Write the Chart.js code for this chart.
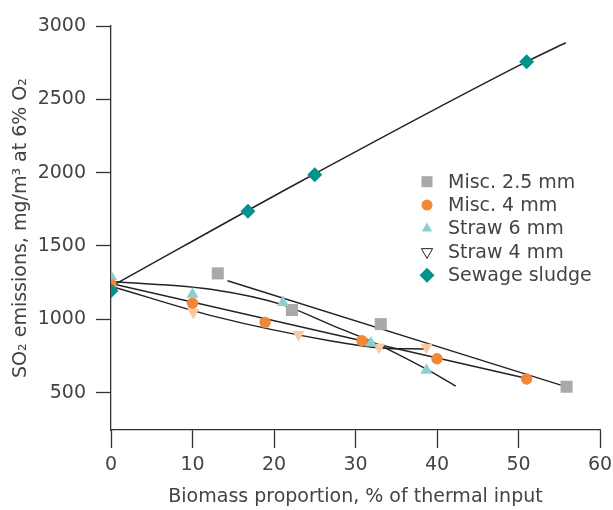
<!DOCTYPE html>
<html>
<head>
<meta charset="utf-8">
<script src="https://cdn.jsdelivr.net/npm/chart.js@4/dist/chart.umd.min.js"></script>
<style>
  html, body { margin: 0; padding: 0; background: #fff; }
  #wrap { width: 613px; height: 510px; position: relative; }
</style>
</head>
<body>
<div id="wrap"><canvas id="chart"></canvas></div>
<script>
const xTicks = [0, 10, 20, 30, 40, 50, 60];
const yTicks = [500, 1000, 1500, 2000, 2500, 3000];
const seriesNames = ["Misc. 2.5 mm", "Misc. 4 mm", "Straw 6 mm", "Straw 4 mm", "Sewage sludge"];

// measured points
const misc25X = [13.1, 22.2, 33.1, 55.9];
const misc25Y = [1313, 1063, 967, 540];
const misc4X = [0, 10, 18.9, 30.8, 40, 51];
const misc4Y = [1238, 1109, 979, 854, 731, 593];
const straw6X = [0, 10, 21.1, 31.9, 38.7];
const straw6Y = [1292, 1170, 1115, 838, 652];
const straw4X = [10.1, 23, 32.9, 38.7];
const straw4Y = [1048, 896, 810, 810];
const sewageX = [0, 16.8, 25, 51];
const sewageY = [1195, 1736, 1985, 2757];

// fitted curves
const misc25FitX = [14.3, 55.2];
const misc25FitY = [1263, 551];
const misc4FitX = [0, 51.6];
const misc4FitY = [1244, 590];
const straw6FitX = [0, 12.8, 21, 27.5, 32, 38.7, 42.3];
const straw6FitY = [1257, 1200, 1100, 950, 848, 660, 545];
const straw4FitX = [0, 12.8, 27, 33, 38.5];
const straw4FitY = [1226, 1018, 852, 805, 797];
const sewageFitX = [0, 23.2, 51, 55.8];
const sewageFitY = [1223, 1938, 2757, 2886];

const FONT = "'DejaVu Sans', sans-serif";
const TEXT = "#444";
const AXIS = "#333";

function pts(xs, ys) {
  return xs.map((x, i) => ({ x: x, y: ys[i] }));
}

function markers(name, xs, ys, style, color, radius, rotation) {
  return {
    label: name,
    data: pts(xs, ys),
    showLine: false,
    pointStyle: style,
    pointRadius: radius,
    pointRotation: rotation || 0,
    pointBackgroundColor: color,
    pointBorderWidth: 0,
    pointBorderColor: color,
    order: 1
  };
}

function fit(xs, ys) {
  return {
    label: "",
    data: pts(xs, ys),
    showLine: true,
    pointRadius: 0,
    borderColor: "#222",
    borderWidth: 1.5,
    cubicInterpolationMode: "monotone",
    order: 10
  };
}

const legendItems = [
  { style: "rect", fill: "#a7a9ac", stroke: null, r: 5.5 },
  { style: "circle", fill: "#f0883a", stroke: null, r: 5.5 },
  { style: "tri", fill: "#8ecfce", stroke: null, r: 6 },
  { style: "triDown", fill: "#fff", stroke: "#222", r: 6.5 },
  { style: "diamond", fill: "#00928d", stroke: null, r: 7.5 }
];

function shape(ctx, s, x, y, r) {
  ctx.beginPath();
  if (s === "rect") {
    ctx.rect(x - r, y - r, 2 * r, 2 * r);
  } else if (s === "circle") {
    ctx.arc(x, y, r, 0, Math.PI * 2);
  } else if (s === "tri") {
    ctx.moveTo(x, y - r);
    ctx.lineTo(x + r * 0.866, y + r / 2);
    ctx.lineTo(x - r * 0.866, y + r / 2);
    ctx.closePath();
  } else if (s === "triDown") {
    ctx.moveTo(x, y + r);
    ctx.lineTo(x + r * 0.866, y - r / 2);
    ctx.lineTo(x - r * 0.866, y - r / 2);
    ctx.closePath();
  } else {
    ctx.moveTo(x, y - r);
    ctx.lineTo(x + r, y);
    ctx.lineTo(x, y + r);
    ctx.lineTo(x - r, y);
    ctx.closePath();
  }
}

const legendPlugin = {
  id: "sideLegend",
  afterDraw(chart) {
    const ctx = chart.ctx;
    ctx.save();
    ctx.font = "19px " + FONT;
    ctx.textBaseline = "middle";
    ctx.textAlign = "left";
    legendItems.forEach((it, i) => {
      const y = 181.7 + i * 23.4;
      shape(ctx, it.style, 427, y, it.r);
      ctx.fillStyle = it.fill;
      ctx.fill();
      if (it.stroke) {
        ctx.strokeStyle = it.stroke;
        ctx.lineWidth = 1;
        ctx.stroke();
      }
      ctx.fillStyle = TEXT;
      ctx.fillText(seriesNames[i], 448, y + 1);
    });
    ctx.restore();
  }
};

const ctx = document.getElementById("chart").getContext("2d");
new Chart(ctx, {
  type: "scatter",
  data: {
    datasets: [
      markers(seriesNames[4], sewageX, sewageY, "rectRot", "#00928d", 7.5),
      markers(seriesNames[1], misc4X, misc4Y, "circle", "#f0883a", 5.7),
      markers(seriesNames[2], straw6X, straw6Y, "triangle", "#8ecfce", 7),
      markers(seriesNames[3], straw4X, straw4Y, "triangle", "#fcc8a0", 7, 180),
      markers(seriesNames[0], misc25X, misc25Y, "rect", "#a7a9ac", 8.5),
      fit(misc25FitX, misc25FitY),
      fit(misc4FitX, misc4FitY),
      fit(straw6FitX, straw6FitY),
      fit(straw4FitX, straw4FitY),
      fit(sewageFitX, sewageFitY)
    ]
  },
  options: {
    responsive: true,
    maintainAspectRatio: false,
    animation: false,
    events: [],
    layout: { padding: { top: 26, right: 13, left: 0, bottom: 0 } },
    plugins: { legend: { display: false }, tooltip: { enabled: false } },
    scales: {
      x: {
        type: "linear",
        min: 0,
        max: 60,
        afterBuildTicks: s => { s.ticks = xTicks.map(v => ({ value: v })); },
        afterFit: s => { s.height = 80; s.paddingLeft = 0; s.paddingRight = 0; },
        border: { display: true, color: AXIS, width: 1.3 },
        grid: { drawOnChartArea: false, drawTicks: true, tickLength: 18, tickColor: AXIS, tickWidth: 1.3 },
        ticks: { padding: 6, color: TEXT, font: { family: FONT, size: 19 }, callback: v => String(v) },
        title: {
          display: true,
          text: "Biomass proportion, % of thermal input",
          color: TEXT,
          font: { family: FONT, size: 19 },
          padding: { top: 2, bottom: 2 }
        }
      },
      y: {
        type: "linear",
        min: 245,
        max: 3000,
        afterBuildTicks: s => { s.ticks = yTicks.map(v => ({ value: v })); },
        afterFit: s => { s.width = 111; s.paddingTop = 0; s.paddingBottom = 0; },
        border: { display: true, color: AXIS, width: 1.3 },
        grid: { drawOnChartArea: false, drawTicks: true, tickLength: 15, tickColor: AXIS, tickWidth: 1.3 },
        ticks: { padding: 10, color: TEXT, font: { family: FONT, size: 19 }, callback: v => String(v) },
        title: {
          display: true,
          text: "SO\u2082 emissions, mg/m\u00b3 at 6% O\u2082",
          color: TEXT,
          font: { family: FONT, size: 19 },
          padding: { top: 10, bottom: 10 }
        }
      }
    }
  },
  plugins: [legendPlugin]
});
</script>
</body>
</html>
